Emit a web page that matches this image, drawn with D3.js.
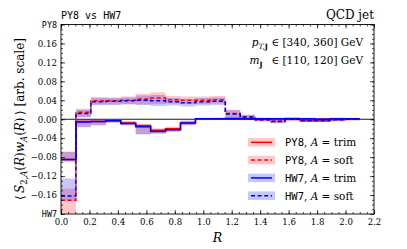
<!DOCTYPE html>
<html>
<head>
<meta charset="utf-8">
<script src="https://cdn.jsdelivr.net/npm/d3@7"></script>
<style>
  body { margin: 0; background: #fff; }
  svg { display: block; }
</style>
</head>
<body>
<svg id="chart" width="407" height="249"></svg>
<script>
// bin edges in R (20 bins)
const binEdges = [0, 0.105, 0.21, 0.315, 0.42, 0.525, 0.63, 0.735, 0.84, 0.945, 1.05,
    1.155, 1.26, 1.365, 1.47, 1.575, 1.68, 1.785, 1.89, 1.995, 2.1]

// PY8, A = trim
const py8Trim   = [-0.085, -0.005, -0.005, -0.003, -0.008, -0.013, -0.023, -0.020, -0.008, 0.000, 0.001, 0.002, 0.001, 0.001, 0.000, 0.001, 0.000, 0.000, 0.001, 0.000]
const py8TrimLo = [-0.089, -0.016, -0.012, -0.007, -0.012, -0.031, -0.028, -0.025, -0.012, -0.002, -0.001, -0.001, -0.002, -0.002, -0.002, -0.002, -0.002, -0.002, -0.001, -0.002]
const py8TrimHi = [-0.068, 0.000, -0.001, -0.001, -0.004, -0.010, -0.019, -0.016, -0.003, 0.002, 0.003, 0.004, 0.003, 0.003, 0.002, 0.003, 0.002, 0.002, 0.003, 0.002]
// PY8, A = soft
const py8Soft   = [-0.171, 0.015, 0.039, 0.039, 0.040, 0.043, 0.045, 0.041, 0.040, 0.040, 0.041, 0.012, 0.005, -0.001, -0.005, 0.001, -0.003, -0.003, -0.001, 0.000]
const py8SoftLo = [-0.199, 0.005, 0.031, 0.031, 0.032, 0.031, 0.032, 0.033, 0.032, 0.032, 0.033, 0.004, 0.000, -0.004, -0.009, -0.002, -0.006, -0.006, -0.004, -0.002]
const py8SoftHi = [-0.146, 0.022, 0.047, 0.046, 0.048, 0.054, 0.057, 0.049, 0.048, 0.048, 0.049, 0.020, 0.010, 0.002, -0.001, 0.004, 0.000, 0.000, 0.002, 0.002]
// HW7, A = trim
const hw7Trim   = [-0.085, -0.006, -0.005, -0.003, -0.009, -0.016, -0.026, -0.022, -0.008, 0.001, 0.001, 0.001, 0.001, 0.001, 0.001, 0.001, 0.001, 0.000, 0.001, 0.001]
const hw7TrimLo = [-0.089, -0.017, -0.013, -0.007, -0.013, -0.032, -0.031, -0.027, -0.013, -0.001, -0.001, -0.001, -0.001, -0.001, -0.001, -0.001, -0.001, -0.002, -0.001, -0.001]
const hw7TrimHi = [-0.069, -0.001, -0.001, -0.001, -0.005, -0.012, -0.022, -0.018, -0.003, 0.003, 0.003, 0.003, 0.003, 0.003, 0.003, 0.003, 0.003, 0.002, 0.003, 0.003]
// HW7, A = soft
const hw7Soft   = [-0.162, 0.012, 0.037, 0.038, 0.039, 0.040, 0.039, 0.037, 0.035, 0.037, 0.038, 0.011, 0.005, -0.001, -0.004, 0.000, -0.003, -0.003, -0.001, 0.000]
const hw7SoftLo = [-0.172, 0.004, 0.030, 0.030, 0.031, 0.030, 0.028, 0.029, 0.027, 0.029, 0.030, 0.004, -0.001, -0.004, -0.008, -0.003, -0.006, -0.006, -0.004, -0.002]
const hw7SoftHi = [-0.125, 0.020, 0.045, 0.045, 0.046, 0.050, 0.051, 0.045, 0.043, 0.045, 0.046, 0.019, 0.009, 0.002, 0.000, 0.003, 0.000, 0.000, 0.002, 0.002]

const xTicks = [0, 0.2, 0.4, 0.6, 0.8, 1.0, 1.2, 1.4, 1.6, 1.8, 2.0, 2.2]
const yTicks = [-0.2, -0.16, -0.12, -0.08, -0.04, 0, 0.04, 0.08, 0.12, 0.16, 0.2]

const serif = "DejaVu Serif"
const mono = "DejaVu Sans Mono"

let svg = d3.select("#chart")
let pLeft = 61, pRight = 374, pTop = 24.5, pBottom = 214

let x = d3.scaleLinear().domain([0, 2.2]).range([pLeft, pRight])
let y = d3.scaleLinear().domain([-0.2, 0.2]).range([pBottom, pTop])

// series list built from the arrays above
const series = [
    { v: py8Trim, lo: py8TrimLo, hi: py8TrimHi, color: "#ff0000", dash: null },
    { v: py8Soft, lo: py8SoftLo, hi: py8SoftHi, color: "#ff0000", dash: "4,2.6" },
    { v: hw7Trim, lo: hw7TrimLo, hi: hw7TrimHi, color: "#0000ff", dash: null },
    { v: hw7Soft, lo: hw7SoftLo, hi: hw7SoftHi, color: "#0000ff", dash: "4,2.6" },
]

// step points: one per bin edge, last bin repeated at the right edge
function stepPts(s) {
    return binEdges.map((e, i) => {
        let k = Math.min(i, s.v.length - 1)
        return { r: e, v: s.v[k], lo: s.lo[k], hi: s.hi[k] }
    })
}

let area = d3.area().curve(d3.curveStepAfter)
    .x(d => x(d.r)).y0(d => y(d.lo)).y1(d => y(d.hi))
let line = d3.line().curve(d3.curveStepAfter)
    .x(d => x(d.r)).y(d => y(d.v))

let plot = svg.append("g")
plot.selectAll("path.band")
    .data(series)
    .enter()
    .append("path")
    .attr("class", "band")
    .attr("d", d => area(stepPts(d)))
    .attr("fill", d => d.color)
    .attr("fill-opacity", 0.22)
    .attr("stroke", "none")

// zero line
plot.append("line")
    .attr("x1", pLeft).attr("x2", pRight)
    .attr("y1", y(0)).attr("y2", y(0))
    .attr("stroke", "#000").attr("stroke-width", 0.9)

plot.selectAll("path.curve")
    .data(series)
    .enter()
    .append("path")
    .attr("class", "curve")
    .attr("d", d => line(stepPts(d)))
    .attr("fill", "none")
    .attr("stroke", d => d.color)
    .attr("stroke-width", 1.5)
    .attr("stroke-dasharray", d => d.dash)

// axes, ticks pointing inward on all four sides
function yLabel(d) {
    if (Math.abs(d - 0.2) < 1e-9) return "PY8"
    if (Math.abs(d + 0.2) < 1e-9) return "HW7"
    return d3.format(".2f")(d).replace("-", "\u2212")
}
let minorY = d3.range(-20, 21).map(i => i / 100)
let minorX = d3.range(0, 45).map(i => i * 0.05)

function styleAxis(g) {
    g.select(".domain").remove()
    g.selectAll(".tick line").attr("stroke", "#000").attr("stroke-width", 0.7)
    g.selectAll("text").attr("fill", "#000").attr("font-family", serif).attr("font-size", 8.6)
}

svg.append("g").attr("transform", `translate(${pLeft},0)`)
    .call(d3.axisLeft(y).tickValues(minorY).tickSize(-2).tickFormat(""))
    .call(styleAxis)
svg.append("g").attr("transform", `translate(${pRight},0)`)
    .call(d3.axisRight(y).tickValues(minorY).tickSize(-2).tickFormat(""))
    .call(styleAxis)
svg.append("g").attr("transform", `translate(0,${pBottom})`)
    .call(d3.axisBottom(x).tickValues(minorX).tickSize(-2).tickFormat(""))
    .call(styleAxis)
svg.append("g").attr("transform", `translate(0,${pTop})`)
    .call(d3.axisTop(x).tickValues(minorX).tickSize(-2).tickFormat(""))
    .call(styleAxis)

let yAxis = svg.append("g").attr("transform", `translate(${pLeft},0)`)
    .call(d3.axisLeft(y).tickValues(yTicks).tickSize(-4).tickPadding(4).tickFormat(yLabel))
    .call(styleAxis)
yAxis.selectAll("text").filter(d => Math.abs(Math.abs(d) - 0.2) < 1e-9)
    .attr("font-family", mono).attr("font-size", 8.4)
svg.append("g").attr("transform", `translate(${pRight},0)`)
    .call(d3.axisRight(y).tickValues(yTicks).tickSize(-4).tickFormat(""))
    .call(styleAxis)
svg.append("g").attr("transform", `translate(0,${pBottom})`)
    .call(d3.axisBottom(x).tickValues(xTicks).tickSize(-4).tickPadding(5).tickFormat(d3.format(".1f")))
    .call(styleAxis)
svg.append("g").attr("transform", `translate(0,${pTop})`)
    .call(d3.axisTop(x).tickValues(xTicks).tickSize(-4).tickFormat(""))
    .call(styleAxis)

svg.append("rect")
    .attr("x", pLeft).attr("y", pTop)
    .attr("width", pRight - pLeft).attr("height", pBottom - pTop)
    .attr("fill", "none").attr("stroke", "#000").attr("stroke-width", 0.9)

// rich text helper: parts with italic / bold / mono / subscript flags
function rich(sel, parts, size) {
    let prevSub = false
    parts.forEach(p => {
        let ts = sel.append("tspan").text(p.t)
        if (p.i) ts.attr("font-style", "italic")
        if (p.b) ts.attr("font-weight", "bold")
        if (p.m) ts.attr("font-family", mono)
        if (p.sub) ts.attr("font-size", size * 0.7)
        if (p.sub && !prevSub) ts.attr("dy", size * 0.28)
        if (!p.sub && prevSub) ts.attr("dy", -size * 0.28)
        prevSub = !!p.sub
    })
}

// titles
svg.append("text")
    .attr("x", pLeft).attr("y", 19)
    .attr("font-family", mono).attr("font-size", 10)
    .text("PY8 vs HW7")
svg.append("text")
    .attr("x", pRight).attr("y", 19)
    .attr("text-anchor", "end")
    .attr("font-family", serif).attr("font-size", 12)
    .text("QCD jet")

// kinematic annotations
let ann1 = svg.append("text")
    .attr("x", 363).attr("y", 46)
    .attr("text-anchor", "end")
    .attr("font-family", serif).attr("font-size", 10.5)
rich(ann1, [
    { t: "p", i: true }, { t: "T,", i: true, sub: true }, { t: "J", b: true, sub: true },
    { t: " \u2208 [340, 360] GeV" }
], 10.5)
let ann2 = svg.append("text")
    .attr("x", 363).attr("y", 64)
    .attr("text-anchor", "end")
    .attr("font-family", serif).attr("font-size", 10.5)
rich(ann2, [
    { t: "m", i: true }, { t: "J", b: true, sub: true },
    { t: "\u2002 \u2208 [110, 120] GeV" }
], 10.5)

// axis labels
let yl = svg.append("text")
    .attr("transform", "translate(24,119) rotate(-90)")
    .attr("text-anchor", "middle")
    .attr("font-family", serif).attr("font-size", 12)
rich(yl, [
    { t: "\u27E8\u2009" }, { t: "S", i: true }, { t: "2,", sub: true }, { t: "A", i: true, sub: true },
    { t: "(" }, { t: "R", i: true }, { t: ")" }, { t: "w", i: true }, { t: "A", i: true, sub: true },
    { t: "(" }, { t: "R", i: true }, { t: ")\u2009\u27E9 [arb. scale]" }
], 12)

svg.append("text")
    .attr("x", (pLeft + pRight) / 2).attr("y", 242)
    .attr("text-anchor", "middle")
    .attr("font-family", serif).attr("font-style", "italic").attr("font-size", 12.5)
    .text("R")

// legend
const legendLabels = [
    { gen: "PY8", alg: "trim" },
    { gen: "PY8", alg: "soft" },
    { gen: "HW7", alg: "trim" },
    { gen: "HW7", alg: "soft" },
]
let legend = svg.append("g")
legendLabels.forEach((l, i) => {
    let s = series[i]
    let cy = 142.3 + i * 17.8
    let row = legend.append("g")
    row.append("rect")
        .attr("x", 248).attr("y", cy - 4.3)
        .attr("width", 27).attr("height", 8.6)
        .attr("fill", s.color).attr("fill-opacity", 0.22)
    row.append("line")
        .attr("x1", 251).attr("x2", 272)
        .attr("y1", cy).attr("y2", cy)
        .attr("stroke", s.color).attr("stroke-width", 1.5)
        .attr("stroke-dasharray", s.dash)
    let t = row.append("text")
        .attr("x", 285).attr("y", cy + 3.8)
        .attr("font-family", serif).attr("font-size", 10.5)
    rich(t, [{ t: l.gen, m: true }, { t: ", " }, { t: "A", i: true }, { t: " = " + l.alg }], 10.5)
})
</script>
</body>
</html>
